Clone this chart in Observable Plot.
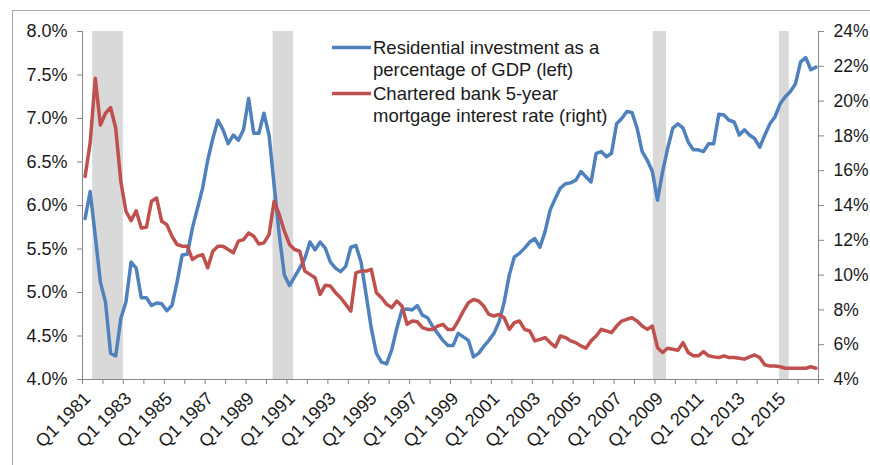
<!DOCTYPE html>
<html>
<head>
<meta charset="utf-8">
<script src="https://cdn.jsdelivr.net/npm/d3@7"></script>
<script src="https://cdn.jsdelivr.net/npm/@observablehq/plot@0.6"></script>
<style>
  body { margin: 0; background: #fff; }
  #chart { position: relative; width: 870px; height: 465px; overflow: hidden; }
</style>
</head>
<body>
<div id="chart"></div>
<script>
// ---- Data (quarterly, Q1 1981 .. Q4 2016) ----
const startYear = 1981;
const residentialInvestment = [
  5.85, 6.16, 5.65, 5.12, 4.89, 4.30, 4.27, 4.70, 4.89, 5.35, 5.28, 4.94,
  4.94, 4.85, 4.88, 4.87, 4.79, 4.85, 5.12, 5.43, 5.44, 5.74, 5.97, 6.20,
  6.52, 6.77, 6.98, 6.87, 6.71, 6.81, 6.75, 6.87, 7.23, 6.83, 6.83, 7.06,
  6.81, 6.23, 5.66, 5.20, 5.08, 5.18, 5.28, 5.39, 5.58, 5.49, 5.58, 5.51,
  5.35, 5.28, 5.24, 5.30, 5.52, 5.54, 5.35, 4.97, 4.59, 4.30, 4.20, 4.18,
  4.34, 4.59, 4.80, 4.81, 4.80, 4.85, 4.74, 4.71, 4.61, 4.53, 4.45, 4.39,
  4.39, 4.53, 4.49, 4.45, 4.26, 4.30, 4.38, 4.45, 4.53, 4.66, 4.89, 5.20,
  5.41, 5.45, 5.51, 5.58, 5.62, 5.52, 5.70, 5.95, 6.08, 6.20, 6.25, 6.26,
  6.29, 6.39, 6.33, 6.27, 6.60, 6.62, 6.56, 6.60, 6.94, 7.00, 7.08, 7.07,
  6.89, 6.62, 6.52, 6.39, 6.06, 6.39, 6.66, 6.89, 6.94, 6.89, 6.73, 6.64,
  6.64, 6.62, 6.71, 6.71, 7.05, 7.04, 6.98, 6.96, 6.81, 6.87, 6.81, 6.77,
  6.67, 6.81, 6.94, 7.02, 7.17, 7.25, 7.31, 7.40, 7.65, 7.70, 7.56, 7.59
];
const mortgageRate = [
  15.67, 17.60, 21.31, 18.63, 19.30, 19.63, 18.44, 15.38, 13.67, 13.13, 13.70, 12.71,
  12.75, 14.24, 14.43, 13.09, 12.90, 12.23, 11.76, 11.66, 11.66, 10.90, 11.09, 11.18,
  10.42, 11.37, 11.66, 11.66, 11.47, 11.28, 11.95, 12.04, 12.42, 12.23, 11.79, 11.85,
  12.33, 14.24, 13.47, 12.52, 11.76, 11.47, 11.37, 10.23, 10.04, 9.85, 8.89, 9.42,
  9.37, 8.99, 8.70, 8.32, 7.93, 10.13, 10.23, 10.23, 10.33, 8.99, 8.70, 8.32,
  8.13, 8.51, 8.22, 7.17, 7.36, 7.32, 6.98, 6.88, 6.88, 7.07, 7.17, 6.88,
  6.88, 7.36, 7.93, 8.41, 8.60, 8.51, 8.22, 7.74, 7.65, 7.74, 7.55, 6.88,
  7.27, 7.36, 6.88, 6.79, 6.22, 6.31, 6.41, 6.12, 5.87, 6.50, 6.41, 6.22,
  6.12, 5.93, 5.80, 6.22, 6.50, 6.88, 6.79, 6.69, 7.07, 7.36, 7.46, 7.55,
  7.36, 7.07, 6.88, 7.07, 5.83, 5.55, 5.80, 5.74, 5.68, 6.12, 5.55, 5.36,
  5.36, 5.60, 5.36, 5.30, 5.26, 5.36, 5.26, 5.26, 5.22, 5.17, 5.30, 5.41,
  5.26, 4.84, 4.78, 4.78, 4.73, 4.65, 4.65, 4.65, 4.65, 4.65, 4.73, 4.65
];
const recessionStart = [1981.5, 1990.32, 2008.92, 2015.09];
const recessionEnd   = [1983.0, 1991.33, 2009.57, 2015.57];
const leftTicks  = [4.0, 4.5, 5.0, 5.5, 6.0, 6.5, 7.0, 7.5, 8.0];
const rightTicks = [4, 6, 8, 10, 12, 14, 16, 18, 20, 22, 24];
const tickYears  = d3.range(1981, 2018);
const labelYears = [1981, 1983, 1985, 1987, 1989, 1991, 1993, 1995, 1997, 1999, 2001, 2003, 2005, 2007, 2009, 2011, 2013, 2015];
const legendLines = [
  ["Residential investment as a", "percentage of GDP (left)"],
  ["Chartered bank 5-year", "mortgage interest rate (right)"]
];
const seriesColors = ["#4F81BD", "#C0504D"];

// ---- Helpers ----
const toLeft = r => 4 + (r - 4) / 5;       // right-axis value -> left-axis units
const fromLeft = l => (l - 4) * 5 + 4;
const tOf = i => startYear + (i + 0.5) / 4;

const blueData = residentialInvestment.map((v, i) => ({t: tOf(i), v}));
const redData = mortgageRate.map((v, i) => ({t: tOf(i), v}));
const recessions = recessionStart.map((s, i) => ({start: s, end: recessionEnd[i]}));

const axisColor = "#868686";
const textColor = "#1a1a1a";
const font = "'Liberation Sans', Arial, sans-serif";

const plot = Plot.plot({
  width: 870,
  height: 465,
  marginLeft: 82,
  marginRight: 52,
  marginTop: 31,
  marginBottom: 86,
  x: {domain: [1981, 2017], axis: null},
  y: {domain: [4, 8], axis: null},
  style: {fontFamily: font, background: "transparent", color: textColor},
  marks: [
    Plot.rect(recessions, {x1: "start", x2: "end", y1: 4, y2: 8, fill: "#d9d9d9"}),
    Plot.line(blueData, {x: "t", y: "v", stroke: seriesColors[0], strokeWidth: 3.5, strokeLinejoin: "round"}),
    Plot.line(redData, {x: "t", y: d => toLeft(d.v), stroke: seriesColors[1], strokeWidth: 3.5, strokeLinejoin: "round"}),
    Plot.ruleX([1981], {stroke: axisColor}),
    Plot.ruleX([2017], {stroke: axisColor}),
    Plot.ruleY([4], {stroke: axisColor}),
    Plot.axisY(leftTicks, {anchor: "left", label: null, tickSize: 5, tickPadding: 10, stroke: axisColor, fill: textColor,
      fontSize: 18, tickFormat: d => d.toFixed(1) + "%"}),
    Plot.axisY(rightTicks.map(toLeft), {anchor: "right", label: null, tickSize: 5, tickPadding: 10, stroke: axisColor, fill: textColor,
      fontSize: 17.5, tickFormat: d => Math.round(fromLeft(d)) + "%"}),
    Plot.ruleX(tickYears, {x: d => d, y1: 4, y2: 4, insetBottom: -5, stroke: axisColor}),
    Plot.text(labelYears, {x: d => d, y: 4, text: d => "Q1 " + d, rotate: -45, textAnchor: "end",
      dx: 5, dy: 16, fontSize: 18, fill: textColor})
  ]
});

const svg = d3.select(plot);
// outer chart border
svg.insert("rect", ":first-child")
  .attr("x", 12.5).attr("y", 10.5).attr("width", 880).attr("height", 480)
  .attr("fill", "#fff").attr("stroke", "#a6a6a6").attr("stroke-width", 1);

// legend
const lg = svg.append("g").attr("font-family", font).attr("font-size", 18.5)
  .attr("fill", textColor).attr("text-anchor", "start");
const legendY = [[54, 76], [100, 121.5]];
const swatchY = [47.5, 93.5];
legendLines.forEach((lines, k) => {
  lg.append("line").attr("x1", 332).attr("x2", 371).attr("y1", swatchY[k]).attr("y2", swatchY[k])
    .attr("stroke", seriesColors[k]).attr("stroke-width", 3.5);
  lines.forEach((txt, j) => {
    lg.append("text").attr("x", 373).attr("y", legendY[k][j]).text(txt);
  });
});

document.getElementById("chart").appendChild(plot);
</script>
</body>
</html>
